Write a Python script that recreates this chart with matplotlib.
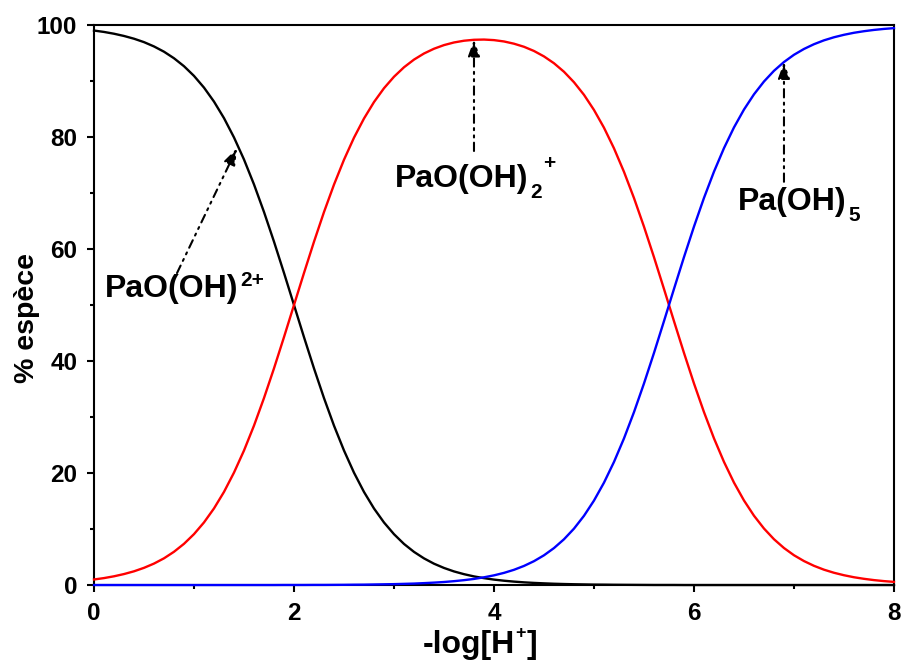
import numpy as np
import matplotlib.pyplot as plt

plt.rcParams['font.family'] = ['Liberation Sans', 'DejaVu Sans']
plt.rcParams['font.weight'] = 'bold'

# -log[H+] grid
ph = np.round(np.linspace(0, 8, 81), 1)

# % of each species
pao_oh_2plus = [99.01, 98.76, 98.44, 98.04, 97.55, 96.94, 96.17, 95.23, 94.06, 92.64,
                90.91, 88.82, 86.32, 83.37, 79.92, 75.98, 71.53, 66.61, 61.31, 55.73,
                50.00, 44.26, 38.68, 33.38, 28.46, 24.02, 20.06, 16.62, 13.67, 11.17,
                9.08, 7.34, 5.92, 4.76, 3.81, 3.05, 2.43, 1.94, 1.54, 1.23,
                0.97, 0.77, 0.61, 0.48, 0.38, 0.30, 0.23, 0.18, 0.14, 0.11,
                0.08, 0.07, 0.05, 0.04, 0.03, 0.02, 0.01, 0.01, 0.01, 0.0,
                0.0, 0.0, 0.0, 0.0, 0.0, 0.0, 0.0, 0.0, 0.0, 0.0,
                0.0, 0.0, 0.0, 0.0, 0.0, 0.0, 0.0, 0.0, 0.0, 0.0, 0.0]
pao_oh2_plus = [0.99, 1.24, 1.56, 1.96, 2.45, 3.07, 3.83, 4.77, 5.94, 7.36,
                9.09, 11.18, 13.68, 16.63, 20.08, 24.02, 28.47, 33.39, 38.69, 44.27,
                50.00, 55.72, 61.30, 66.60, 71.50, 75.94, 79.88, 83.30, 86.24, 88.71,
                90.76, 92.45, 93.82, 94.91, 95.76, 96.41, 96.88, 97.19, 97.36, 97.40,
                97.30, 97.06, 96.66, 96.11, 95.36, 94.39, 93.17, 91.65, 89.78, 87.53,
                84.83, 81.66, 77.98, 73.78, 69.10, 63.99, 58.54, 52.87, 47.12, 41.45,
                35.99, 30.88, 26.19, 21.99, 18.29, 15.10, 12.38, 10.09, 8.18, 6.61,
                5.32, 4.28, 3.43, 2.74, 2.19, 1.75, 1.39, 1.11, 0.88, 0.70, 0.56]
pa_oh5 = [0.0, 0.0, 0.0, 0.0, 0.0, 0.0, 0.0, 0.0, 0.0, 0.0,
          0.0, 0.0, 0.0, 0.0, 0.0, 0.0, 0.0, 0.0, 0.0, 0.01,
          0.01, 0.01, 0.02, 0.02, 0.03, 0.04, 0.06, 0.07, 0.10, 0.13,
          0.16, 0.21, 0.26, 0.34, 0.43, 0.54, 0.69, 0.87, 1.09, 1.38,
          1.73, 2.17, 2.72, 3.41, 4.26, 5.31, 6.60, 8.17, 10.07, 12.36,
          15.08, 18.28, 21.98, 26.18, 30.87, 35.99, 41.44, 47.12, 52.87, 58.55,
          64.00, 69.12, 73.81, 78.01, 81.71, 84.90, 87.62, 89.91, 91.82, 93.39,
          94.68, 95.72, 96.57, 97.26, 97.81, 98.25, 98.61, 98.89, 99.12, 99.30, 99.44]

# species labels: main text, index text (sub/superscript pieces), position, arrow
label_main = ['PaO(OH)', 'PaO(OH)', 'Pa(OH)']
label_sub = ['', '2', '5']
label_sup = ['2+', '+', '']
label_xy = [(0.11, 51.4), (3.01, 71.1), (6.44, 67.0)]
arrow_tail = [(0.83, 55.7), (3.80, 77.5), (6.90, 72.0)]
arrow_head = [(1.43, 78.0), (3.80, 97.4), (6.90, 93.4)]

fig = plt.figure(figsize=(9.03, 6.63), dpi=100)
ax = fig.add_axes([0.1041, 0.1176, 0.8859, 0.8447])

for y, c in [(pao_oh_2plus, 'black'), (pao_oh2_plus, 'red'), (pa_oh5, 'blue')]:
    ax.plot(ph, y, color=c, lw=1.7, zorder=3, clip_on=False)

dash_dot_dot = (0, (4, 2.5, 1, 2.5, 1, 2.5))
for main, sub, sup, pos, tail, head in zip(label_main, label_sub, label_sup,
                                           label_xy, arrow_tail, arrow_head):
    t = ax.text(pos[0], pos[1], main, fontsize=23, fontweight='bold',
                ha='left', va='baseline')
    last = t
    if sub:
        last = ax.annotate(sub, xy=(1, pos[1]), xycoords=(t, 'data'),
                           xytext=(1, -8), textcoords='offset points',
                           fontsize=15, fontweight='bold', ha='left', va='baseline')
    if sup:
        ax.annotate(sup, xy=(1, pos[1]), xycoords=(last, 'data'),
                    xytext=(1, 8 if not sub else 13),
                    textcoords='offset points',
                    fontsize=15, fontweight='bold', ha='left', va='baseline')
    ax.annotate('', xy=head, xytext=tail,
                arrowprops=dict(arrowstyle='-|>,head_length=1.0,head_width=0.36',
                                lw=1.5, ls=dash_dot_dot, color='black',
                                shrinkA=0, shrinkB=0))

ax.set_xlim(0, 8)
ax.set_ylim(0, 100)
ax.set_xticks([0, 2, 4, 6, 8])
ax.set_xticks([1, 3, 5, 7], minor=True)
ax.set_yticks([0, 20, 40, 60, 80, 100])
ax.set_yticks([10, 30, 50, 70, 90], minor=True)
ax.tick_params(which='both', direction='out', width=1.5, labelsize=17.5, pad=7)
ax.tick_params(which='major', length=5)
ax.tick_params(which='minor', length=3)
for s in ax.spines.values():
    s.set_linewidth(1.5)

# x label: -log[H+] with raised plus
xl = fig.text(0.468, 0.015, '-log[H', fontsize=23, fontweight='bold',
              ha='left', va='baseline')
xp = ax.annotate('+', xy=(1, 0.015), xycoords=(xl, 'figure fraction'),
                 xytext=(0.5, 11), textcoords='offset points', fontsize=13,
                 fontweight='bold', ha='left', va='baseline', annotation_clip=False)
ax.annotate(']', xy=(1, 0.015), xycoords=(xp, 'figure fraction'),
            xytext=(0.5, 0), textcoords='offset points', fontsize=23,
            fontweight='bold', ha='left', va='baseline', annotation_clip=False)

ax.set_ylabel('% espèce', fontsize=20.5, fontweight='bold')
ax.yaxis.set_label_coords(-0.068, 0.477)

fig.savefig('out.png', dpi=100)
